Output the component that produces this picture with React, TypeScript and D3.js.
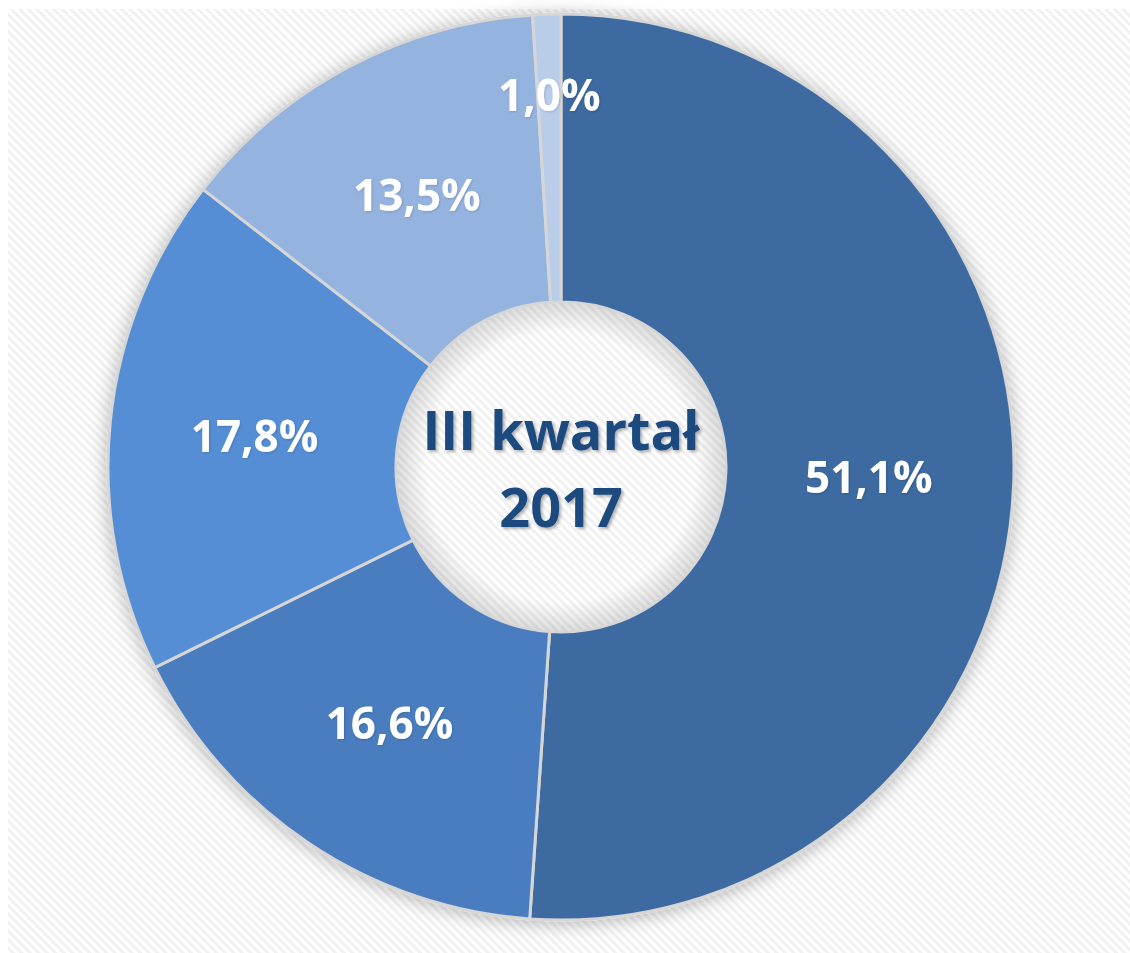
import React from 'react';
import * as d3 from 'd3';

// slice values, clockwise from 12 o'clock
const shares = [51.1, 16.6, 17.8, 13.5, 1.0];
const sliceColors = ['#3E6AA0', '#4A7DBF', '#558ED5', '#95B3DF', '#B9CDE9'];
const centerLines = ['III kwartał', '2017'];

const W = 1130;
const H = 953;
const cx = 561;
const cy = 467;
const outerR = 453;
const innerR = 165;

const fmt = (v: number) => v.toFixed(1).replace('.', ',') + '%';

const App = () => {
  const pie = d3.pie<number>().sort(null).value(d => d);
  const arcs = pie(shares);
  const arc = d3.arc<d3.PieArcDatum<number>>().innerRadius(innerR).outerRadius(outerR);
  const labelArc = d3.arc<d3.PieArcDatum<number>>().innerRadius(308).outerRadius(308);
  // small slices get their label pushed towards the rim
  const smallArc = d3.arc<d3.PieArcDatum<number>>().innerRadius(372).outerRadius(372);

  return (
    <svg width={W} height={H} style={{ position: 'absolute', left: 0, top: 0 }}
      fontFamily="'Open Sans', sans-serif">
      <defs>
        <pattern id="stripes" width="6" height="6" patternUnits="userSpaceOnUse"
          patternTransform="rotate(-45)">
          <rect width="6" height="6" fill="#ffffff" />
          <rect width="3" height="6" fill="#f1f1f1" />
        </pattern>
        <filter id="ringShadow" x="-10%" y="-10%" width="120%" height="120%">
          <feGaussianBlur in="SourceAlpha" stdDeviation="9" />
          <feOffset dx="0" dy="2" result="blur" />
          <feFlood floodColor="#000" floodOpacity="0.28" />
          <feComposite in2="blur" operator="in" />
          <feMerge>
            <feMergeNode />
            <feMergeNode in="SourceGraphic" />
          </feMerge>
        </filter>
        <filter id="txtShadow" x="-20%" y="-20%" width="140%" height="140%">
          <feGaussianBlur in="SourceAlpha" stdDeviation="1.5" />
          <feOffset dx="2" dy="2" result="b" />
          <feFlood floodColor="#000" floodOpacity="0.3" />
          <feComposite in2="b" operator="in" />
          <feMerge>
            <feMergeNode />
            <feMergeNode in="SourceGraphic" />
          </feMerge>
        </filter>
        <filter id="lblShadow" x="-20%" y="-20%" width="140%" height="140%">
          <feGaussianBlur in="SourceAlpha" stdDeviation="1" />
          <feOffset dx="1" dy="1" result="b" />
          <feFlood floodColor="#000" floodOpacity="0.15" />
          <feComposite in2="b" operator="in" />
          <feMerge>
            <feMergeNode />
            <feMergeNode in="SourceGraphic" />
          </feMerge>
        </filter>
        <radialGradient id="holeShade" cx="50%" cy="50%" r="50%">
          <stop offset="82%" stopColor="#000" stopOpacity="0" />
          <stop offset="100%" stopColor="#000" stopOpacity="0.13" />
        </radialGradient>
      </defs>

      <rect x={0} y={0} width={W} height={H} fill="#fff" />
      <rect x={8} y={9} width={W - 8} height={H - 9} fill="url(#stripes)" />

      <g transform={`translate(${cx},${cy})`}>
        <g filter="url(#ringShadow)">
          {arcs.map((a, i) => (
            <path key={i} d={arc(a) || ''} fill={sliceColors[i]}
              stroke="#d6d6d6" strokeWidth={3} strokeLinejoin="miter" />
          ))}
        </g>
        <circle r={innerR - 1} fill="url(#stripes)" />
        <circle r={innerR - 1} fill="url(#holeShade)" />

        {arcs.map((a, i) => {
          const [x, y] = (a.data < 5 ? smallArc : labelArc).centroid(a);
          return (
            <text key={i} x={x} y={y} dy="0.36em" textAnchor="middle"
              fill="#fff" fontSize={44} fontWeight={700} filter="url(#lblShadow)">
              {fmt(a.data)}
            </text>
          );
        })}

        {centerLines.map((t, i) => (
          <text key={t} x={0} y={i === 0 ? -17 : 60} textAnchor="middle"
            fill="#1F4A7E" fontSize={54} fontWeight={700} filter="url(#txtShadow)">
            {t}
          </text>
        ))}
      </g>
    </svg>
  );
};

export default App;
